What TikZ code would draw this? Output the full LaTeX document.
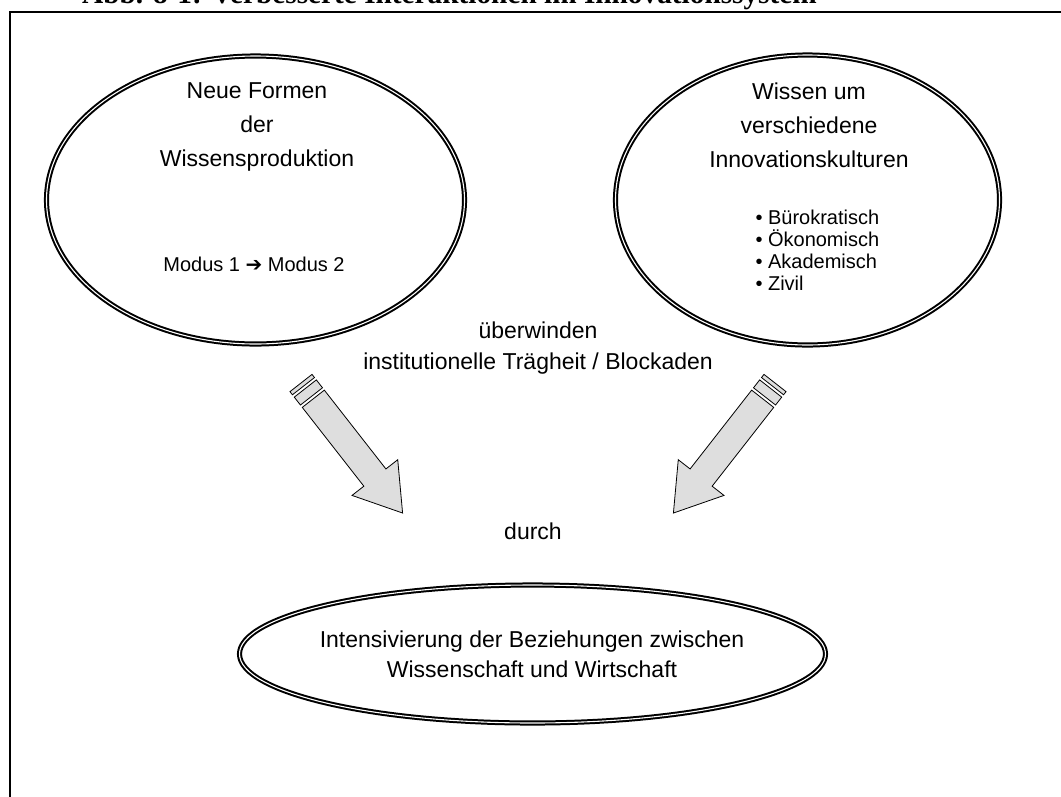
\documentclass[tikz,border=0pt]{standalone}
\usepackage{fontspec}
\setmainfont{Liberation Sans}
\newfontfamily\titlefont{Liberation Serif}
\newfontfamily\symbolfont{DejaVu Sans}
\usetikzlibrary{shapes.geometric}
\definecolor{arrowgray}{gray}{0.87}
\tikzset{
  bubble/.style={ellipse, draw, line width=2pt, double, double distance=1.1pt, inner sep=0pt},
  bigtext/.style={font=\fontsize{23}{34}\selectfont, align=center},
  smalltext/.style={font=\fontsize{20}{22}\selectfont},
  pics/blockarrow/.style={code={
    \filldraw[fill=arrowgray, line width=0.8pt] (0,-14) rectangle (4,14);
    \filldraw[fill=arrowgray, line width=0.8pt] (7,-14) rectangle (17,14);
    \filldraw[fill=arrowgray, line width=0.8pt] (20,-14) -- (120,-14) -- (120,-29) -- (165,0)
      -- (120,29) -- (120,14) -- (20,14) -- cycle;
  }}
}

\begin{document}
\begin{tikzpicture}[x=1pt, y=-1pt]
\clip (0,0) rectangle (1061,796);
\useasboundingbox (0,0) rectangle (1061,796);

% title and frame
\node[anchor=base west, inner sep=0pt, font=\titlefont\bfseries\fontsize{29.3}{32}\selectfont] (titel) at (82,3)
  {Abb. 8-1: Verbesserte Interaktionen im Innovationssystem};
\draw[line width=2pt] (10,12) rectangle (1090,830);

% ellipses
\node[bubble, minimum width=418pt, minimum height=288pt] (wissensprod) at (255.5,200) {};
\node[bubble, minimum width=384pt, minimum height=290pt] (kulturen) at (807.5,200) {};
\node[bubble, minimum width=586pt, minimum height=138pt] (beziehungen) at (532.5,654) {};

% texts
\node[bigtext] (neueformen) at (257,127) {Neue Formen\\der\\Wissensproduktion};
\node[smalltext] (modus) at (254,264) {Modus 1 {\symbolfont ➔} Modus 2};
\node[bigtext] (wissenum) at (809,125) {Wissen um\\verschiedene\\Innovationskulturen};
\node[smalltext, align=left, anchor=west] (liste) at (752,250)
  {• Bürokratisch\\• Ökonomisch\\• Akademisch\\• Zivil};
\node[bigtext, font=\fontsize{23}{31}\selectfont] (ueberwinden) at (538,348)
  {überwinden\\institutionelle Trägheit / Blockaden};
\node[bigtext] (durch) at (533,531) {durch};
\node[bigtext, font=\fontsize{23}{30}\selectfont] (intens) at (532,654)
  {Intensivierung der Beziehungen zwischen\\Wissenschaft und Wirtschaft};

% block arrows
\pic[rotate=-52] at (301,383) {blockarrow};
\pic[rotate=-128] at (775,383) {blockarrow};
\end{tikzpicture}
\end{document}
